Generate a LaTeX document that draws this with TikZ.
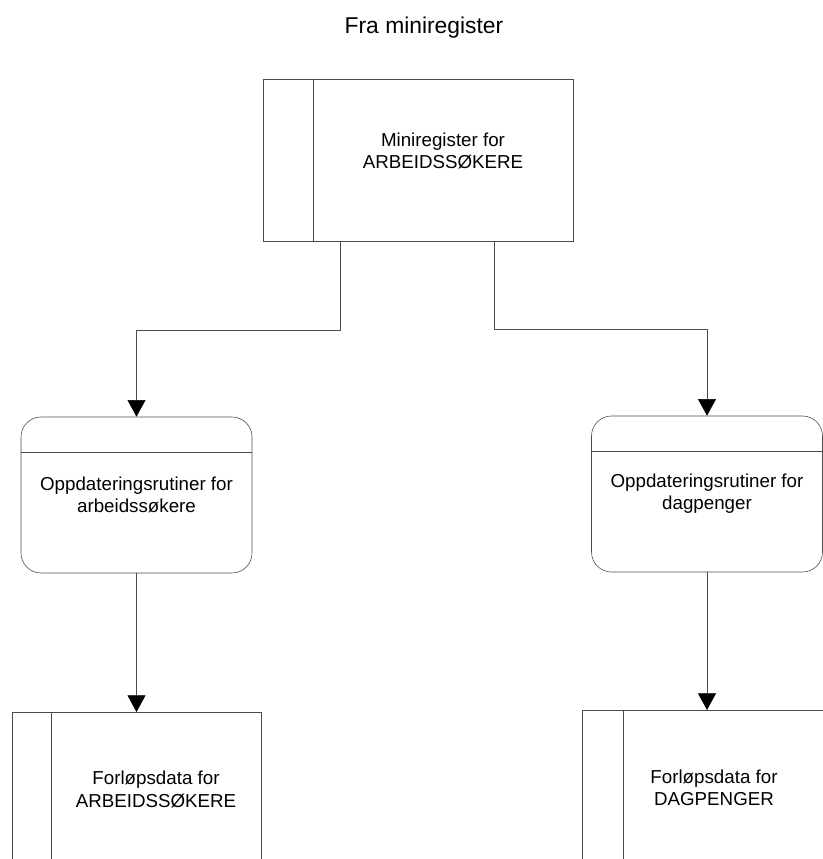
\documentclass[tikz,border=0pt]{standalone}
\usepackage{fontspec}
\setmainfont{Liberation Sans}
\usetikzlibrary{arrows.meta}

\begin{document}
\begin{tikzpicture}[
    wire/.style={draw=black!70, line width=0.5pt},
    txt/.style={align=center, font=\fontsize{16}{19}\selectfont},
    regbox/.style={rectangle, wire},
    procbox/.style={rectangle, wire, rounded corners=0.6cm, minimum width=6.93cm, minimum height=4.68cm, txt},
    flow/.style={wire, -{Triangle[width=0.54cm, length=0.5cm, color=black]}}
]
    \clip (0,0) rectangle (24.69,25.77);

    % Title
    \node[font=\fontsize{19.5}{23}\selectfont] (title) at (12.72,24.93) {Fra miniregister};

    % Miniregister
    \node[regbox, minimum width=9.3cm, minimum height=4.86cm] (mini) at (12.54,20.97) {};
    \draw[wire] ([xshift=1.53cm]mini.north west) -- ([xshift=1.53cm]mini.south west);
    \node[txt] (miniText) at (13.29,21.24) {Miniregister for\\ARBEIDSSØKERE};

    % Update routines
    \node[procbox] (updA) at (4.095,10.92) {Oppdateringsrutiner for\\arbeidssøkere};
    \node[procbox] (updB) at (21.21,10.95) {Oppdateringsrutiner for\\dagpenger};
    \foreach \p in {updA, updB} {
        \draw[wire] ([yshift=-1.08cm]\p.north west) -- ([yshift=-1.08cm]\p.north east);
    }

    % Data stores
    \node[regbox, minimum width=7.47cm, minimum height=6cm, anchor=north] (dataA) at (4.095,4.41) {};
    \draw[wire] ([xshift=1.2cm]dataA.north west) -- ([xshift=1.2cm]dataA.south west);
    \node[txt] (dataAText) at (4.68,2.085) {Forløpsdata for\\ARBEIDSSØKERE};

    \node[regbox, minimum width=7.47cm, minimum height=6cm, anchor=north] (dataB) at (21.21,4.47) {};
    \draw[wire] ([xshift=1.23cm]dataB.north west) -- ([xshift=1.23cm]dataB.south west);
    \node[txt] (dataBText) at (21.42,2.13) {Forløpsdata for\\DAGPENGER};

    % Arrows
    \draw[flow] ([xshift=-2.34cm]mini.south) -- ++(0,-2.67) -| (updA.north);
    \draw[flow] ([xshift=2.28cm]mini.south) -- ++(0,-2.64) -| (updB.north);
    \draw[flow] (updA) -- (dataA);
    \draw[flow] (updB) -- (dataB);
\end{tikzpicture}
\end{document}
